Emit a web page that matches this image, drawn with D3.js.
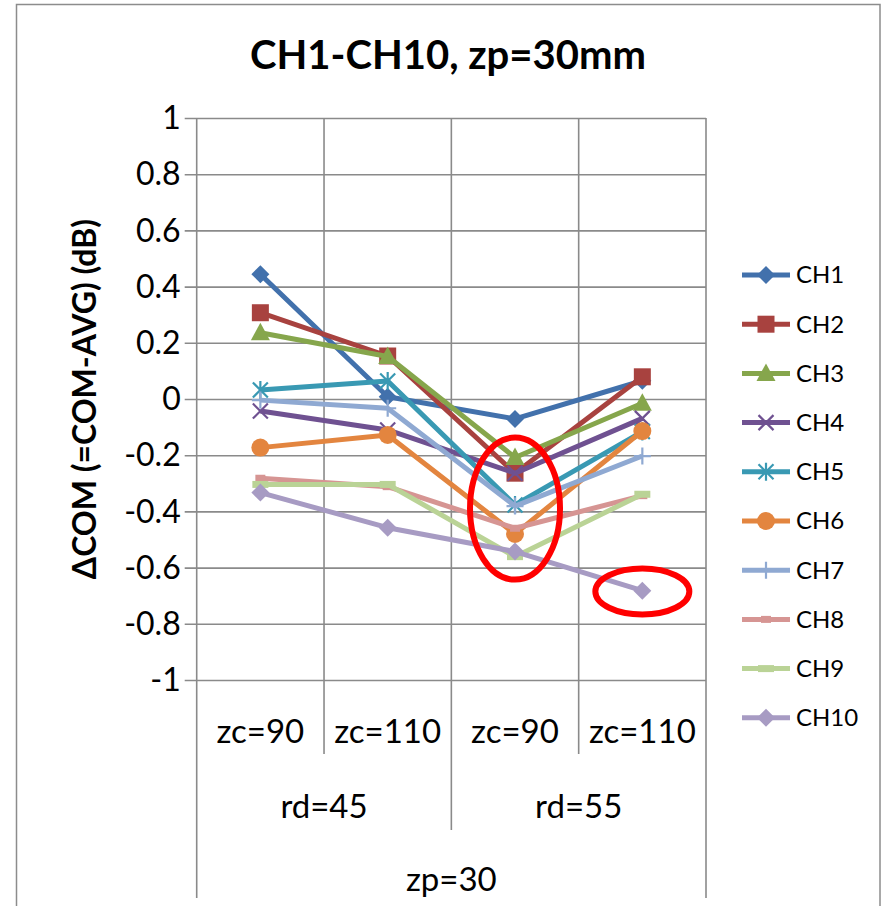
<!DOCTYPE html>
<html>
<head>
<meta charset="utf-8">
<script src="https://cdn.jsdelivr.net/npm/d3@7"></script>
<style>
  body { margin: 0; background: #fff; }
  text { font-family: Lato, "Open Sans", sans-serif; fill: #000; }
</style>
</head>
<body>
<div id="chart"></div>
<script>
// ---- data ----
var categories = ['zc=90', 'zc=110', 'zc=90', 'zc=110'];
var groups = ['rd=45', 'rd=55'];
var topGroup = 'zp=30';
var yTicks = [-1, -0.8, -0.6, -0.4, -0.2, 0, 0.2, 0.4, 0.6, 0.8, 1];

var names = ['CH1', 'CH2', 'CH3', 'CH4', 'CH5', 'CH6', 'CH7', 'CH8', 'CH9', 'CH10'];
var ch1  = [0.444, 0.008, -0.071, 0.065];
var ch2  = [0.307, 0.153, -0.264, 0.079];
var ch3  = [0.236, 0.151, -0.208, -0.015];
var ch4  = [-0.043, -0.110, -0.264, -0.069];
var ch5  = [0.032, 0.064, -0.377, -0.116];
var ch6  = [-0.173, -0.128, -0.480, -0.114];
var ch7  = [-0.004, -0.033, -0.381, -0.203];
var ch8  = [-0.282, -0.312, -0.460, -0.344];
var ch9  = [-0.304, -0.304, -0.561, -0.339];
var ch10 = [-0.333, -0.458, -0.543, -0.682];
var values = [ch1, ch2, ch3, ch4, ch5, ch6, ch7, ch8, ch9, ch10];

var colors = ['#4271ac', '#a8423f', '#86a64c', '#6f5191', '#3999b3',
              '#e3853f', '#8fa9d2', '#d69593', '#bad396', '#a79bc3'];
var markers = ['diamond', 'square', 'triangle', 'x', 'star', 'circle', 'plus', 'dash', 'longdash', 'diamond'];

var width = 885, height = 906;

var svg = d3.select('#chart')
    .append('svg')
    .attr('width', width)
    .attr('height', height);

// outer chart frame
svg.append('rect')
    .attr('x', 16.5).attr('y', 4.5)
    .attr('width', 863.5).attr('height', 920)
    .attr('fill', 'none')
    .attr('stroke', '#8c8c8c')
    .attr('stroke-width', 1.5);

var x = d3.scaleBand()
    .domain(d3.range(categories.length))
    .range([196.7, 706]);

var y = d3.scaleLinear()
    .domain([-1, 1])
    .range([680, 118]);

var grid = '#8a8a8a';

// horizontal gridlines with tick marks
svg.append('g')
    .attr('class', 'ygrid')
    .attr('transform', 'translate(' + x.range()[0] + ',0)')
    .call(d3.axisLeft(y).tickValues(yTicks).tickSizeInner(-(x.range()[1] - x.range()[0])).tickSizeOuter(0).tickFormat(''))
    .call(function (g) {
        g.select('.domain').remove();
        g.selectAll('line').attr('stroke', grid).attr('stroke-width', 1.6).attr('x1', -12);
    });

// y tick labels
svg.append('g')
    .attr('transform', 'translate(' + (x.range()[0] - 16) + ',0)')
    .selectAll('text')
    .data(yTicks)
    .enter().append('text')
    .attr('y', function (d) { return y(d); })
    .attr('dy', '0.35em')
    .attr('text-anchor', 'end')
    .style('font-size', '32px')
    .text(function (d) { return String(d); });

// vertical gridlines at category boundaries
var bounds = d3.range(categories.length + 1).map(function (i) {
    return x.range()[0] + i * x.bandwidth();
});
svg.append('g')
    .selectAll('line')
    .data(bounds)
    .enter().append('line')
    .attr('x1', function (d) { return d; })
    .attr('x2', function (d) { return d; })
    .attr('y1', y(1))
    .attr('y2', function (d, i) {
        if (i === 0 || i === bounds.length - 1) return 898;
        if (i === 2) return 830;
        return 754;
    })
    .attr('stroke', grid)
    .attr('stroke-width', 1.6);

// category labels (three levels)
svg.append('g')
    .selectAll('text')
    .data(categories)
    .enter().append('text')
    .attr('x', function (d, i) { return x(i) + x.bandwidth() / 2; })
    .attr('y', 731)
    .attr('dy', '0.35em')
    .attr('text-anchor', 'middle')
    .style('font-size', '33px')
    .text(function (d) { return d; });

svg.append('g')
    .selectAll('text')
    .data(groups)
    .enter().append('text')
    .attr('x', function (d, i) { return x(i * 2) + x.bandwidth(); })
    .attr('y', 806)
    .attr('dy', '0.35em')
    .attr('text-anchor', 'middle')
    .style('font-size', '33px')
    .text(function (d) { return d; });

svg.append('text')
    .attr('x', (x.range()[0] + x.range()[1]) / 2)
    .attr('y', 879)
    .attr('dy', '0.35em')
    .attr('text-anchor', 'middle')
    .style('font-size', '33px')
    .text(topGroup);

// marker drawing
function drawMarker(sel, type, color) {
    var s = 9;
    if (type === 'diamond') {
        sel.append('path').attr('d', 'M0,' + (-s) + 'L' + s + ',0L0,' + s + 'L' + (-s) + ',0Z').attr('fill', color);
    } else if (type === 'square') {
        sel.append('rect').attr('x', -8.5).attr('y', -8.5).attr('width', 17).attr('height', 17).attr('fill', color);
    } else if (type === 'triangle') {
        sel.append('path').attr('d', 'M0,-10L9.5,7.5L-9.5,7.5Z').attr('fill', color);
    } else if (type === 'circle') {
        sel.append('circle').attr('r', 9).attr('fill', color);
    } else if (type === 'x') {
        sel.append('path').attr('d', 'M-7.5,-7.5L7.5,7.5M-7.5,7.5L7.5,-7.5').attr('stroke', color).attr('stroke-width', 2.2).attr('fill', 'none');
    } else if (type === 'star') {
        sel.append('path').attr('d', 'M-7.5,-7.5L7.5,7.5M-7.5,7.5L7.5,-7.5M0,-9L0,9').attr('stroke', color).attr('stroke-width', 2.2).attr('fill', 'none');
    } else if (type === 'plus') {
        sel.append('path').attr('d', 'M-8.5,0L8.5,0M0,-8.5L0,8.5').attr('stroke', color).attr('stroke-width', 2.2).attr('fill', 'none');
    } else if (type === 'dash') {
        sel.append('rect').attr('x', -5).attr('y', -3.5).attr('width', 10).attr('height', 7).attr('fill', color);
    } else if (type === 'longdash') {
        sel.append('rect').attr('x', -8).attr('y', -3.5).attr('width', 16).attr('height', 7).attr('fill', color);
    }
}

var line = d3.line()
    .x(function (d, i) { return x(i) + x.bandwidth() / 2; })
    .y(function (d) { return y(d); });

var series = svg.selectAll('.series')
    .data(values)
    .enter().append('g')
    .attr('class', 'series');

series.each(function (vals, k) {
    var g = d3.select(this);
    g.append('path')
        .attr('d', line(vals))
        .attr('fill', 'none')
        .attr('stroke', colors[k])
        .attr('stroke-width', 5)
        .attr('stroke-linejoin', 'round');
    vals.forEach(function (v, i) {
        var m = g.append('g')
            .attr('transform', 'translate(' + (x(i) + x.bandwidth() / 2) + ',' + y(v) + ')');
        drawMarker(m, markers[k], colors[k]);
    });
});

// red annotation ellipses
svg.append('ellipse')
    .attr('cx', x(2) + x.bandwidth() / 2)
    .attr('cy', y(-0.39))
    .attr('rx', 45).attr('ry', 71)
    .attr('fill', 'none').attr('stroke', '#ff0000').attr('stroke-width', 6);
svg.append('ellipse')
    .attr('cx', x(3) + x.bandwidth() / 2)
    .attr('cy', y(-0.685))
    .attr('rx', 47).attr('ry', 23)
    .attr('fill', 'none').attr('stroke', '#ff0000').attr('stroke-width', 6);

// legend
var legend = svg.append('g')
    .selectAll('g')
    .data(names)
    .enter().append('g')
    .attr('transform', function (d, i) { return 'translate(742,' + (275 + i * 49.2) + ')'; });

legend.append('line')
    .attr('x1', 0).attr('x2', 48)
    .attr('stroke', function (d, i) { return colors[i]; })
    .attr('stroke-width', 5);

legend.each(function (d, i) {
    var m = d3.select(this).append('g').attr('transform', 'translate(24,0)');
    drawMarker(m, markers[i], colors[i]);
});

legend.append('text')
    .attr('x', 54)
    .attr('dy', '0.35em')
    .style('font-size', '24px')
    .text(function (d) { return d; });

// title
svg.append('text')
    .attr('x', 448)
    .attr('y', 55)
    .attr('dy', '0.35em')
    .attr('text-anchor', 'middle')
    .style('font-size', '40px')
    .style('font-weight', 'bold')
    .text('CH1-CH10, zp=30mm');

// y axis title
svg.append('text')
    .attr('transform', 'translate(85,399) rotate(-90)')
    .attr('dy', '0.35em')
    .attr('text-anchor', 'middle')
    .style('font-size', '32px')
    .style('font-weight', 'bold')
    .text('ΔCOM (=COM-AVG) (dB)');
</script>
</body>
</html>
